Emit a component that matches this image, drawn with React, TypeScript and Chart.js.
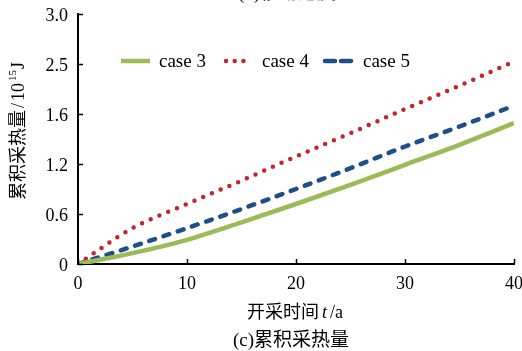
import React, { useEffect, useRef } from 'react';
import { Chart, registerables } from 'chart.js';

Chart.register(...registerables);

// ---- data ----
const years = [0, 5, 10, 15, 20, 25, 30, 35, 40];
const case3 = [0, 0.13, 0.29, 0.5, 0.72, 0.95, 1.19, 1.43, 1.69];
const case4 = [0, 0.43, 0.72, 1.0, 1.29, 1.57, 1.86, 2.14, 2.43];
const case5 = [0, 0.21, 0.43, 0.66, 0.9, 1.15, 1.41, 1.65, 1.9];
const seriesNames = ['case 3', 'case 4', 'case 5'];
const yTickLabels = ['0', '0.6', '1.2', '1.6', '2.5', '3.0'];
const xTickLabels = ['0', '10', '20', '30', '40'];

const SERIF = '"Liberation Serif", "Noto Sans CJK SC", serif';

const toPoints = (ys: number[]) => years.map((x, i) => ({ x, y: ys[i] }));

const decorPlugin = {
  id: 'decor',
  afterDraw(chart: any) {
    const { ctx, chartArea, scales } = chart;
    const xs = scales.x;
    const ys = scales.y;
    ctx.save();
    // inward ticks
    ctx.strokeStyle = '#000';
    ctx.lineWidth = 1.5;
    ys.ticks.forEach((t: any) => {
      const py = Math.round(ys.getPixelForValue(t.value)) + 0.5;
      ctx.beginPath();
      ctx.moveTo(chartArea.left, py);
      ctx.lineTo(chartArea.left + 5, py);
      ctx.stroke();
    });
    xs.ticks.forEach((t: any) => {
      const px = Math.round(xs.getPixelForValue(t.value)) + 0.5;
      ctx.beginPath();
      ctx.moveTo(px, chartArea.bottom);
      ctx.lineTo(px, chartArea.bottom - 5);
      ctx.stroke();
    });

    // legend
    const ly = 61;
    const items = [
      { x1: 121, x2: 150, tx: 159 },
      { x1: 226, x2: 244, tx: 262 },
      { x1: 325, x2: 351, tx: 363 },
    ];
    chart.data.datasets.forEach((ds: any, i: number) => {
      const it = items[i];
      ctx.save();
      ctx.strokeStyle = ds.borderColor;
      ctx.lineWidth = ds.borderWidth;
      ctx.lineCap = 'round';
      if (i === 1) ctx.setLineDash([0, 8.7]);
      else if (i === 2) ctx.setLineDash([10, 6]);
      else ctx.lineCap = 'butt';
      ctx.beginPath();
      ctx.moveTo(it.x1, ly);
      ctx.lineTo(it.x2, ly);
      ctx.stroke();
      ctx.restore();
      ctx.fillStyle = '#000';
      ctx.font = '19px ' + SERIF;
      ctx.textAlign = 'left';
      ctx.textBaseline = 'middle';
      ctx.fillText(ds.label, it.tx, ly + 1);
    });

    // y axis title with superscript
    ctx.save();
    ctx.translate(19, 131);
    ctx.rotate(-Math.PI / 2);
    ctx.fillStyle = '#000';
    ctx.textBaseline = 'middle';
    ctx.textAlign = 'left';
    const mainFont = '18px ' + SERIF;
    const supFont = '11px ' + SERIF;
    const p1 = '累积采热量';
    const p2 = '/10';
    const p3 = '15';
    const p4 = 'J';
    ctx.font = mainFont;
    const w1 = ctx.measureText(p1).width;
    const w2 = ctx.measureText(p2).width + 4;
    const w4 = ctx.measureText(p4).width;
    ctx.font = supFont;
    const w3 = ctx.measureText(p3).width + 1;
    const total = w1 + 2 + w2 + w3 + w4;
    let cx = -total / 2;
    ctx.font = mainFont;
    ctx.fillText(p1, cx, 0);
    cx += w1 + 2;
    ctx.fillText('/', cx, 0);
    ctx.fillText('10', cx + 7, 0);
    cx += w2;
    ctx.font = supFont;
    ctx.fillText(p3, cx, -6);
    cx += w3;
    ctx.font = mainFont;
    ctx.fillText(p4, cx, 0);
    ctx.restore();

    // x axis title
    ctx.fillStyle = '#000';
    ctx.textBaseline = 'middle';
    ctx.textAlign = 'left';
    ctx.font = '18px ' + SERIF;
    const xa = '开采时间';
    const wa = ctx.measureText(xa).width;
    ctx.font = 'italic 18px ' + SERIF;
    const wt = ctx.measureText('t').width;
    ctx.font = '18px ' + SERIF;
    const wr = ctx.measureText('/a').width;
    const xt = wa + wt + wr + 6;
    let sx = 295 - xt / 2;
    ctx.fillText(xa, sx, 313);
    sx += wa + 3;
    ctx.font = 'italic 18px ' + SERIF;
    ctx.fillText('t', sx, 313);
    sx += wt + 3;
    ctx.font = '18px ' + SERIF;
    ctx.fillText('/a', sx, 313);

    // caption
    ctx.textAlign = 'center';
    ctx.font = '19px ' + SERIF;
    ctx.fillText('(c)累积采热量', 291, 341);

    // cropped caption of the previous panel
    ctx.textBaseline = 'bottom';
    ctx.fillText('(b)移动速度', 287, 4);
    ctx.restore();
  },
};

export default function App() {
  const ref = useRef<HTMLCanvasElement | null>(null);

  useEffect(() => {
    if (!ref.current) return;
    const chart = new Chart(ref.current, {
      type: 'line',
      data: {
        datasets: [
          {
            label: seriesNames[0],
            data: toPoints(case3),
            borderColor: '#9bbb59',
            backgroundColor: '#9bbb59',
            borderWidth: 4.5,
            pointRadius: 0,
            cubicInterpolationMode: 'monotone',
          },
          {
            label: seriesNames[1],
            data: toPoints(case4),
            borderColor: '#c0262d',
            backgroundColor: '#c0262d',
            borderWidth: 4.5,
            borderDash: [0, 9.5],
            borderCapStyle: 'round',
            pointRadius: 0,
            cubicInterpolationMode: 'monotone',
          },
          {
            label: seriesNames[2],
            data: toPoints(case5),
            borderColor: '#1f4e89',
            backgroundColor: '#1f4e89',
            borderWidth: 4.5,
            borderDash: [6, 9],
            borderCapStyle: 'round',
            pointRadius: 0,
            cubicInterpolationMode: 'monotone',
          },
        ],
      },
      options: {
        responsive: false,
        animation: false,
        events: [],
        layout: { padding: { top: 14, right: 8, left: 0, bottom: 0 } },
        plugins: {
          legend: { display: false },
          tooltip: { enabled: false },
          title: { display: false },
        },
        scales: {
          x: {
            type: 'linear',
            min: 0,
            max: 40,
            grid: { display: false, drawTicks: false },
            border: { display: true, color: '#000', width: 2 },
            ticks: {
              stepSize: 10,
              padding: 9,
              color: '#000',
              font: { family: SERIF, size: 18 },
              maxRotation: 0,
              callback: (_v: any, i: number) => xTickLabels[i],
            },
            afterFit: (s: any) => {
              s.height = 87;
              s.paddingLeft = 0;
              s.paddingRight = 0;
            },
          },
          y: {
            type: 'linear',
            min: 0,
            max: 3,
            grid: { display: false, drawTicks: false },
            border: { display: true, color: '#000', width: 2 },
            ticks: {
              stepSize: 0.6,
              padding: 10,
              labelOffset: 2,
              color: '#000',
              font: { family: SERIF, size: 18 },
              callback: (_v: any, i: number) => yTickLabels[i],
            },
            afterFit: (s: any) => {
              s.width = 78;
              s.paddingTop = 0;
              s.paddingBottom = 0;
            },
          },
        },
      } as any,
      plugins: [decorPlugin],
    });
    return () => chart.destroy();
  }, []);

  return (
    <div style={{ position: 'absolute', left: 0, top: 0, width: 522, height: 351, background: '#fff' }}>
      <canvas ref={ref} width={522} height={351} />
    </div>
  );
}
